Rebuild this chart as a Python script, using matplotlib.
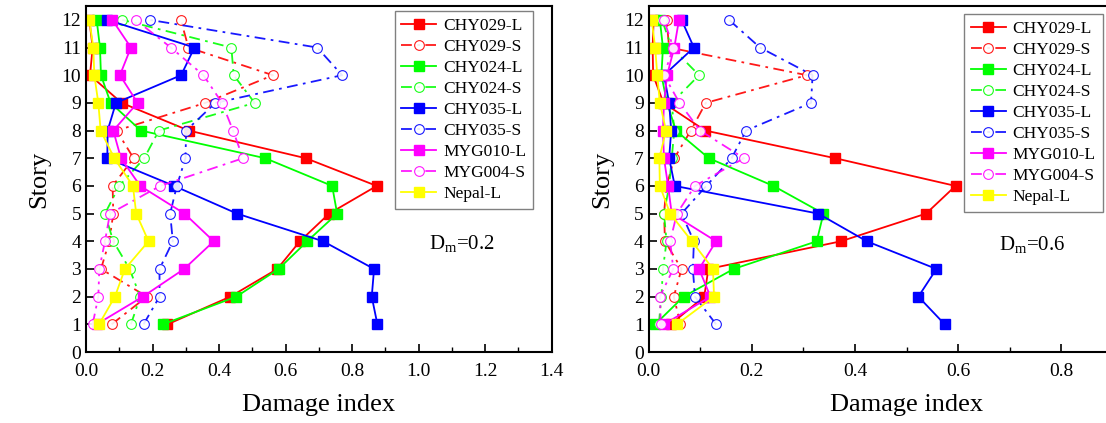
import matplotlib
matplotlib.use("Agg")
import matplotlib.pyplot as plt
from matplotlib.ticker import MultipleLocator, FuncFormatter

plt.rcParams['font.family'] = ['Liberation Serif', 'DejaVu Serif']
plt.rcParams['mathtext.fontset'] = 'custom'
plt.rcParams['mathtext.rm'] = 'Liberation Serif'
plt.rcParams['mathtext.it'] = 'Liberation Serif'

stories = [1, 2, 3, 4, 5, 6, 7, 8, 9, 10, 11, 12]
series_names = ["CHY029-L", "CHY029-S", "CHY024-L", "CHY024-S",
                "CHY035-L", "CHY035-S", "MYG010-L", "MYG004-S", "Nepal-L"]
series_colors = ["#FF0000", "#FF0000", "#00FF00", "#00FF00",
                 "#0000FF", "#0000FF", "#FF00FF", "#FF00FF", "#FFFF00"]

# Dm = 0.2
d02_chy029_l = [0.245, 0.434, 0.575, 0.643, 0.731, 0.874, 0.661, 0.309, 0.107, 0.012, 0.020, 0.010]
d02_chy029_s = [0.077, 0.183, 0.045, 0.070, 0.082, 0.080, 0.143, 0.092, 0.359, 0.562, 0.308, 0.285]
d02_chy024_l = [0.231, 0.452, 0.579, 0.665, 0.755, 0.740, 0.539, 0.165, 0.074, 0.045, 0.042, 0.032]
d02_chy024_s = [0.135, 0.163, 0.131, 0.082, 0.057, 0.100, 0.175, 0.219, 0.507, 0.444, 0.437, 0.109]
d02_chy035_l = [0.876, 0.859, 0.866, 0.713, 0.454, 0.265, 0.064, 0.065, 0.090, 0.286, 0.326, 0.064]
d02_chy035_s = [0.173, 0.221, 0.221, 0.261, 0.253, 0.273, 0.299, 0.301, 0.389, 0.770, 0.695, 0.191]
d02_myg010_l = [0.032, 0.171, 0.295, 0.384, 0.296, 0.163, 0.105, 0.082, 0.155, 0.102, 0.135, 0.079]
d02_myg004_s = [0.020, 0.037, 0.040, 0.057, 0.072, 0.223, 0.472, 0.442, 0.409, 0.353, 0.255, 0.149]
d02_nepal_l = [0.039, 0.087, 0.117, 0.188, 0.151, 0.141, 0.085, 0.044, 0.037, 0.025, 0.022, 0.010]

# Dm = 0.6
d06_chy029_l = [0.043, 0.108, 0.116, 0.373, 0.538, 0.595, 0.362, 0.110, 0.029, 0.009, 0.008, 0.010]
d06_chy029_s = [0.062, 0.049, 0.064, 0.032, 0.030, 0.035, 0.050, 0.082, 0.111, 0.307, 0.040, 0.035]
d06_chy024_l = [0.013, 0.068, 0.165, 0.326, 0.339, 0.242, 0.117, 0.053, 0.036, 0.025, 0.028, 0.022]
d06_chy024_s = [0.020, 0.025, 0.028, 0.035, 0.030, 0.040, 0.045, 0.050, 0.045, 0.098, 0.045, 0.026]
d06_chy035_l = [0.574, 0.523, 0.558, 0.423, 0.329, 0.051, 0.040, 0.044, 0.040, 0.030, 0.088, 0.064]
d06_chy035_s = [0.131, 0.090, 0.086, 0.088, 0.064, 0.112, 0.161, 0.189, 0.315, 0.318, 0.216, 0.156]
d06_myg010_l = [0.030, 0.120, 0.098, 0.131, 0.045, 0.038, 0.030, 0.028, 0.030, 0.036, 0.050, 0.059]
d06_myg004_s = [0.024, 0.022, 0.048, 0.042, 0.055, 0.090, 0.185, 0.100, 0.060, 0.030, 0.048, 0.030]
d06_nepal_l = [0.055, 0.127, 0.125, 0.084, 0.042, 0.022, 0.021, 0.034, 0.022, 0.017, 0.013, 0.006]

panels = [
    dict(data=[d02_chy029_l, d02_chy029_s, d02_chy024_l, d02_chy024_s, d02_chy035_l,
               d02_chy035_s, d02_myg010_l, d02_myg004_s, d02_nepal_l],
         xlim=(0, 1.4), label="0.2", pos=[86/1106, 71/423, 465.7/1106, 346/423],
         leg=(0.960, 0.986), txt=(0.807, 0.315), maxlab=1.45),
    dict(data=[d06_chy029_l, d06_chy029_s, d06_chy024_l, d06_chy024_s, d06_chy035_l,
               d06_chy035_s, d06_myg010_l, d06_myg004_s, d06_nepal_l],
         xlim=(0, 1.0), label="0.6", pos=[648.5/1106, 71/423, 516/1106, 346/423],
         leg=(0.880, 0.977), txt=(0.743, 0.31), maxlab=0.85),
]

fig = plt.figure(figsize=(11.06, 4.23), dpi=100)

for p in panels:
    ax = fig.add_axes(p["pos"])
    for name, col, vals in zip(series_names, series_colors, p["data"]):
        if name.endswith("-L"):
            ax.plot(vals, stories, color=col, lw=1.3, ls='-', marker='s', ms=6.5,
                    mfc=col, mec=col, label=name)
        else:
            ax.plot(vals, stories, color=col, lw=1.3, ls=(0, (6, 3, 1.5, 3)), marker='o', ms=7,
                    mfc='white', mec=col, mew=0.8, alpha=0.9, label=name)
    ax.set_xlim(*p["xlim"])
    ax.set_ylim(0, 12.5)
    ax.xaxis.set_major_locator(MultipleLocator(0.2))
    ax.xaxis.set_minor_locator(MultipleLocator(0.1))
    ax.yaxis.set_major_locator(MultipleLocator(1))
    maxlab = p["maxlab"]
    ax.xaxis.set_major_formatter(FuncFormatter(lambda v, pos, m=maxlab: f"{v:.1f}" if v <= m else ""))
    ax.tick_params(axis='both', which='major', direction='in', length=6, width=1.2,
                   labelsize=14, top=False, right=False)
    ax.tick_params(axis='x', which='major', pad=8)
    ax.tick_params(axis='both', which='minor', direction='in', length=3.5, width=1.0,
                   top=False, right=False)
    for s in ax.spines.values():
        s.set_linewidth(1.5)
    ax.set_xlabel("Damage index", fontsize=19, labelpad=10)
    ax.set_ylabel("Story", fontsize=19, labelpad=8)
    leg = ax.legend(loc='upper right', bbox_to_anchor=p["leg"], fontsize=12.5,
                    frameon=True, fancybox=False, edgecolor='#808080', framealpha=1,
                    handlelength=2.0, labelspacing=0.28, borderpad=0.4, handletextpad=0.4,
                    borderaxespad=0)
    leg.get_frame().set_linewidth(1.0)
    ax.text(p["txt"][0], p["txt"][1], r"$\mathrm{D_m}$=" + p["label"], transform=ax.transAxes,
            fontsize=15, ha='center', va='center')

fig.savefig("out.png", dpi=100)
